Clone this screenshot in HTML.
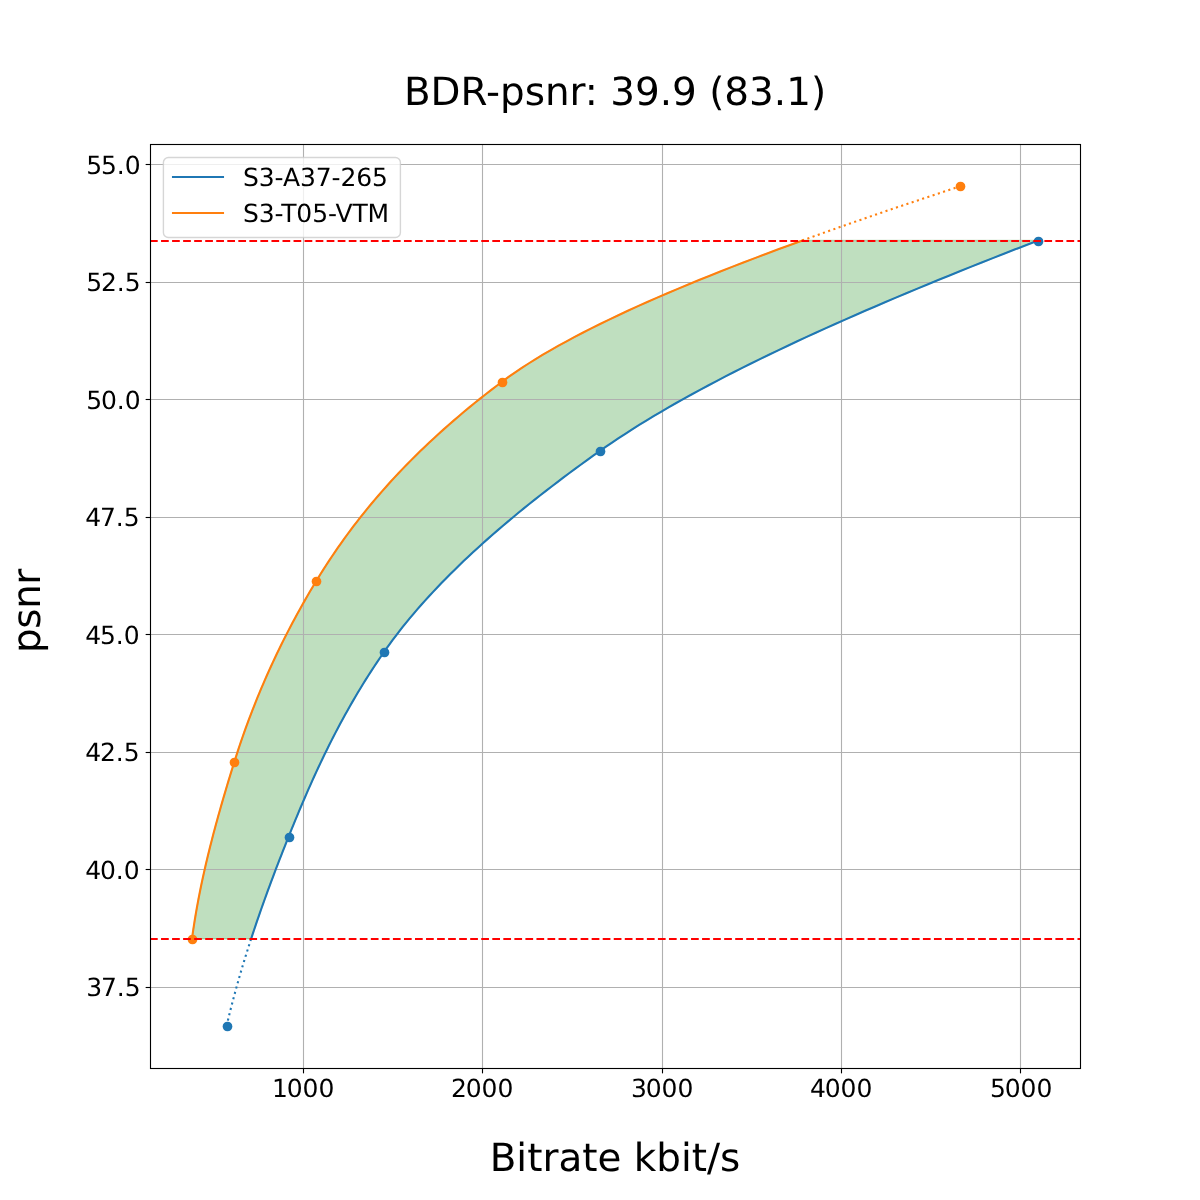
<!DOCTYPE html>
<html><head><meta charset="utf-8"><title>BDR-psnr</title>
<style>html,body{margin:0;padding:0;background:#fff}svg{display:block}text{text-rendering:geometricPrecision;font-family:"DejaVu Sans","Liberation Sans",sans-serif;fill:#000}</style></head><body>
<svg width="1200" height="1200" viewBox="0 0 1200 1200">
<rect width="1200" height="1200" fill="#fff"/>
<clipPath id="c"><rect x="150" y="144" width="930" height="924"/></clipPath>
<g clip-path="url(#c)">
<path d="M251.15 938.75 L252.59 934.36 L254.05 929.97 L255.53 925.58 L257.02 921.19 L258.53 916.79 L260.06 912.40 L261.60 908.01 L263.16 903.62 L264.73 899.23 L266.32 894.84 L267.92 890.45 L269.54 886.06 L271.17 881.66 L272.81 877.27 L274.47 872.88 L276.14 868.49 L277.82 864.10 L279.52 859.71 L281.23 855.32 L282.95 850.93 L284.68 846.53 L286.42 842.14 L288.18 837.75 L289.94 833.36 L291.72 828.97 L293.51 824.58 L295.31 820.19 L297.13 815.80 L298.96 811.41 L300.81 807.01 L302.68 802.62 L304.57 798.23 L306.47 793.84 L308.39 789.45 L310.34 785.06 L312.31 780.67 L314.30 776.28 L316.31 771.88 L318.35 767.49 L320.42 763.10 L322.51 758.71 L324.63 754.32 L326.78 749.93 L328.95 745.54 L331.16 741.15 L333.40 736.76 L335.67 732.36 L337.97 727.97 L340.31 723.58 L342.68 719.19 L345.09 714.80 L347.54 710.41 L350.02 706.02 L352.54 701.63 L355.10 697.23 L357.71 692.84 L360.35 688.45 L363.03 684.06 L365.76 679.67 L368.54 675.28 L371.36 670.89 L374.22 666.50 L377.13 662.10 L380.09 657.71 L383.10 653.32 L386.16 648.93 L389.31 644.54 L392.53 640.15 L395.84 635.76 L399.22 631.37 L402.68 626.98 L406.21 622.58 L409.83 618.19 L413.52 613.80 L417.29 609.41 L421.13 605.02 L425.05 600.63 L429.04 596.24 L433.11 591.85 L437.25 587.45 L441.46 583.06 L445.75 578.67 L450.11 574.28 L454.54 569.89 L459.04 565.50 L463.61 561.11 L468.25 556.72 L472.97 552.32 L477.75 547.93 L482.60 543.54 L487.51 539.15 L492.50 534.76 L497.55 530.37 L502.67 525.98 L507.85 521.59 L513.10 517.20 L518.42 512.80 L523.80 508.41 L529.24 504.02 L534.75 499.63 L540.32 495.24 L545.95 490.85 L551.65 486.46 L557.41 482.07 L563.22 477.67 L569.10 473.28 L575.04 468.89 L581.04 464.50 L587.09 460.11 L593.21 455.72 L599.38 451.33 L605.65 446.94 L612.06 442.54 L618.63 438.15 L625.34 433.76 L632.19 429.37 L639.18 424.98 L646.32 420.59 L653.59 416.20 L661.00 411.81 L668.54 407.42 L676.22 403.02 L684.03 398.63 L691.97 394.24 L700.04 389.85 L708.23 385.46 L716.55 381.07 L724.99 376.68 L733.55 372.29 L742.23 367.89 L751.03 363.50 L759.94 359.11 L768.97 354.72 L778.11 350.33 L787.36 345.94 L796.72 341.55 L806.18 337.16 L815.76 332.77 L825.43 328.37 L835.20 323.98 L845.08 319.59 L855.05 315.20 L865.12 310.81 L875.29 306.42 L885.54 302.03 L895.89 297.64 L906.33 293.24 L916.85 288.85 L927.46 284.46 L938.16 280.07 L948.94 275.68 L959.79 271.29 L970.73 266.90 L981.74 262.51 L992.83 258.11 L1003.99 253.72 L1015.23 249.33 L1026.53 244.94 L1037.90 240.55 L802.18 240.55 L790.14 244.94 L778.24 249.33 L766.48 253.72 L754.85 258.11 L743.37 262.51 L732.04 266.90 L720.86 271.29 L709.84 275.68 L698.98 280.07 L688.28 284.46 L677.75 288.85 L667.40 293.24 L657.22 297.64 L647.22 302.03 L637.41 306.42 L627.79 310.81 L618.36 315.20 L609.12 319.59 L600.09 323.98 L591.27 328.37 L582.65 332.77 L574.25 337.16 L566.07 341.55 L558.11 345.94 L550.38 350.33 L542.87 354.72 L535.60 359.11 L528.57 363.50 L521.78 367.89 L515.24 372.29 L508.95 376.68 L502.91 381.07 L497.08 385.46 L491.33 389.85 L485.68 394.24 L480.12 398.63 L474.65 403.02 L469.27 407.42 L463.97 411.81 L458.76 416.20 L453.64 420.59 L448.60 424.98 L443.64 429.37 L438.77 433.76 L433.97 438.15 L429.26 442.54 L424.63 446.94 L420.08 451.33 L415.60 455.72 L411.20 460.11 L406.87 464.50 L402.62 468.89 L398.45 473.28 L394.34 477.67 L390.31 482.07 L386.35 486.46 L382.45 490.85 L378.63 495.24 L374.87 499.63 L371.18 504.02 L367.56 508.41 L364.00 512.80 L360.50 517.20 L357.07 521.59 L353.69 525.98 L350.38 530.37 L347.13 534.76 L343.93 539.15 L340.80 543.54 L337.72 547.93 L334.70 552.32 L331.73 556.72 L328.81 561.11 L325.95 565.50 L323.14 569.89 L320.38 574.28 L317.67 578.67 L315.00 583.06 L312.37 587.45 L309.78 591.85 L307.23 596.24 L304.70 600.63 L302.22 605.02 L299.76 609.41 L297.35 613.80 L294.96 618.19 L292.61 622.58 L290.29 626.98 L288.01 631.37 L285.76 635.76 L283.54 640.15 L281.35 644.54 L279.20 648.93 L277.08 653.32 L274.99 657.71 L272.93 662.10 L270.91 666.50 L268.91 670.89 L266.95 675.28 L265.02 679.67 L263.12 684.06 L261.25 688.45 L259.41 692.84 L257.60 697.23 L255.82 701.63 L254.07 706.02 L252.36 710.41 L250.67 714.80 L249.00 719.19 L247.37 723.58 L245.77 727.97 L244.19 732.36 L242.65 736.76 L241.13 741.15 L239.64 745.54 L238.18 749.93 L236.74 754.32 L235.34 758.71 L233.96 763.10 L232.59 767.49 L231.23 771.88 L229.89 776.28 L228.55 780.67 L227.23 785.06 L225.91 789.45 L224.61 793.84 L223.32 798.23 L222.05 802.62 L220.79 807.01 L219.54 811.41 L218.31 815.80 L217.10 820.19 L215.90 824.58 L214.71 828.97 L213.55 833.36 L212.40 837.75 L211.27 842.14 L210.15 846.53 L209.06 850.93 L207.99 855.32 L206.93 859.71 L205.90 864.10 L204.89 868.49 L203.90 872.88 L202.93 877.27 L201.98 881.66 L201.06 886.06 L200.16 890.45 L199.29 894.84 L198.44 899.23 L197.62 903.62 L196.82 908.01 L196.05 912.40 L195.30 916.79 L194.59 921.19 L193.90 925.58 L193.23 929.97 L192.60 934.36 L192.00 938.75Z" fill="#008000" fill-opacity="0.25" stroke="#008000" stroke-opacity="0.25" stroke-width="1.39" stroke-linejoin="miter"/>
<g stroke="#b0b0b0" stroke-width="1.11" fill="none">
<path d="M303.5 144V1068"/>
<path d="M482.5 144V1068"/>
<path d="M662.5 144V1068"/>
<path d="M841.5 144V1068"/>
<path d="M1020.5 144V1068"/>
<path d="M150 164.5H1080"/>
<path d="M150 282.5H1080"/>
<path d="M150 399.5H1080"/>
<path d="M150 517.5H1080"/>
<path d="M150 634.5H1080"/>
<path d="M150 752.5H1080"/>
<path d="M150 869.5H1080"/>
<path d="M150 987.5H1080"/>
</g>
<path d="M251.15 938.75 L252.59 934.36 L254.05 929.97 L255.53 925.58 L257.02 921.19 L258.53 916.79 L260.06 912.40 L261.60 908.01 L263.16 903.62 L264.73 899.23 L266.32 894.84 L267.92 890.45 L269.54 886.06 L271.17 881.66 L272.81 877.27 L274.47 872.88 L276.14 868.49 L277.82 864.10 L279.52 859.71 L281.23 855.32 L282.95 850.93 L284.68 846.53 L286.42 842.14 L288.18 837.75 L289.94 833.36 L291.72 828.97 L293.51 824.58 L295.31 820.19 L297.13 815.80 L298.96 811.41 L300.81 807.01 L302.68 802.62 L304.57 798.23 L306.47 793.84 L308.39 789.45 L310.34 785.06 L312.31 780.67 L314.30 776.28 L316.31 771.88 L318.35 767.49 L320.42 763.10 L322.51 758.71 L324.63 754.32 L326.78 749.93 L328.95 745.54 L331.16 741.15 L333.40 736.76 L335.67 732.36 L337.97 727.97 L340.31 723.58 L342.68 719.19 L345.09 714.80 L347.54 710.41 L350.02 706.02 L352.54 701.63 L355.10 697.23 L357.71 692.84 L360.35 688.45 L363.03 684.06 L365.76 679.67 L368.54 675.28 L371.36 670.89 L374.22 666.50 L377.13 662.10 L380.09 657.71 L383.10 653.32 L386.16 648.93 L389.31 644.54 L392.53 640.15 L395.84 635.76 L399.22 631.37 L402.68 626.98 L406.21 622.58 L409.83 618.19 L413.52 613.80 L417.29 609.41 L421.13 605.02 L425.05 600.63 L429.04 596.24 L433.11 591.85 L437.25 587.45 L441.46 583.06 L445.75 578.67 L450.11 574.28 L454.54 569.89 L459.04 565.50 L463.61 561.11 L468.25 556.72 L472.97 552.32 L477.75 547.93 L482.60 543.54 L487.51 539.15 L492.50 534.76 L497.55 530.37 L502.67 525.98 L507.85 521.59 L513.10 517.20 L518.42 512.80 L523.80 508.41 L529.24 504.02 L534.75 499.63 L540.32 495.24 L545.95 490.85 L551.65 486.46 L557.41 482.07 L563.22 477.67 L569.10 473.28 L575.04 468.89 L581.04 464.50 L587.09 460.11 L593.21 455.72 L599.38 451.33 L605.65 446.94 L612.06 442.54 L618.63 438.15 L625.34 433.76 L632.19 429.37 L639.18 424.98 L646.32 420.59 L653.59 416.20 L661.00 411.81 L668.54 407.42 L676.22 403.02 L684.03 398.63 L691.97 394.24 L700.04 389.85 L708.23 385.46 L716.55 381.07 L724.99 376.68 L733.55 372.29 L742.23 367.89 L751.03 363.50 L759.94 359.11 L768.97 354.72 L778.11 350.33 L787.36 345.94 L796.72 341.55 L806.18 337.16 L815.76 332.77 L825.43 328.37 L835.20 323.98 L845.08 319.59 L855.05 315.20 L865.12 310.81 L875.29 306.42 L885.54 302.03 L895.89 297.64 L906.33 293.24 L916.85 288.85 L927.46 284.46 L938.16 280.07 L948.94 275.68 L959.79 271.29 L970.73 266.90 L981.74 262.51 L992.83 258.11 L1003.99 253.72 L1015.23 249.33 L1026.53 244.94 L1037.90 240.55" fill="none" stroke="#1f77b4" stroke-width="2.083" stroke-linecap="square" stroke-linejoin="round"/>
<path d="M192.00 938.75 L192.60 934.36 L193.23 929.97 L193.90 925.58 L194.59 921.19 L195.30 916.79 L196.05 912.40 L196.82 908.01 L197.62 903.62 L198.44 899.23 L199.29 894.84 L200.16 890.45 L201.06 886.06 L201.98 881.66 L202.93 877.27 L203.90 872.88 L204.89 868.49 L205.90 864.10 L206.93 859.71 L207.99 855.32 L209.06 850.93 L210.15 846.53 L211.27 842.14 L212.40 837.75 L213.55 833.36 L214.71 828.97 L215.90 824.58 L217.10 820.19 L218.31 815.80 L219.54 811.41 L220.79 807.01 L222.05 802.62 L223.32 798.23 L224.61 793.84 L225.91 789.45 L227.23 785.06 L228.55 780.67 L229.89 776.28 L231.23 771.88 L232.59 767.49 L233.96 763.10 L235.34 758.71 L236.74 754.32 L238.18 749.93 L239.64 745.54 L241.13 741.15 L242.65 736.76 L244.19 732.36 L245.77 727.97 L247.37 723.58 L249.00 719.19 L250.67 714.80 L252.36 710.41 L254.07 706.02 L255.82 701.63 L257.60 697.23 L259.41 692.84 L261.25 688.45 L263.12 684.06 L265.02 679.67 L266.95 675.28 L268.91 670.89 L270.91 666.50 L272.93 662.10 L274.99 657.71 L277.08 653.32 L279.20 648.93 L281.35 644.54 L283.54 640.15 L285.76 635.76 L288.01 631.37 L290.29 626.98 L292.61 622.58 L294.96 618.19 L297.35 613.80 L299.76 609.41 L302.22 605.02 L304.70 600.63 L307.23 596.24 L309.78 591.85 L312.37 587.45 L315.00 583.06 L317.67 578.67 L320.38 574.28 L323.14 569.89 L325.95 565.50 L328.81 561.11 L331.73 556.72 L334.70 552.32 L337.72 547.93 L340.80 543.54 L343.93 539.15 L347.13 534.76 L350.38 530.37 L353.69 525.98 L357.07 521.59 L360.50 517.20 L364.00 512.80 L367.56 508.41 L371.18 504.02 L374.87 499.63 L378.63 495.24 L382.45 490.85 L386.35 486.46 L390.31 482.07 L394.34 477.67 L398.45 473.28 L402.62 468.89 L406.87 464.50 L411.20 460.11 L415.60 455.72 L420.08 451.33 L424.63 446.94 L429.26 442.54 L433.97 438.15 L438.77 433.76 L443.64 429.37 L448.60 424.98 L453.64 420.59 L458.76 416.20 L463.97 411.81 L469.27 407.42 L474.65 403.02 L480.12 398.63 L485.68 394.24 L491.33 389.85 L497.08 385.46 L502.91 381.07 L508.95 376.68 L515.24 372.29 L521.78 367.89 L528.57 363.50 L535.60 359.11 L542.87 354.72 L550.38 350.33 L558.11 345.94 L566.07 341.55 L574.25 337.16 L582.65 332.77 L591.27 328.37 L600.09 323.98 L609.12 319.59 L618.36 315.20 L627.79 310.81 L637.41 306.42 L647.22 302.03 L657.22 297.64 L667.40 293.24 L677.75 288.85 L688.28 284.46 L698.98 280.07 L709.84 275.68 L720.86 271.29 L732.04 266.90 L743.37 262.51 L754.85 258.11 L766.48 253.72 L778.24 249.33 L790.14 244.94 L802.18 240.55" fill="none" stroke="#ff7f0e" stroke-width="2.083" stroke-linecap="square" stroke-linejoin="round"/>
<path d="M226.60 1026.00 L227.12 1023.76 L227.65 1021.53 L228.18 1019.29 L228.72 1017.05 L229.27 1014.81 L229.82 1012.58 L230.38 1010.34 L230.94 1008.10 L231.51 1005.87 L232.09 1003.63 L232.67 1001.39 L233.26 999.15 L233.85 996.92 L234.45 994.68 L235.06 992.44 L235.67 990.21 L236.28 987.97 L236.90 985.73 L237.53 983.49 L238.16 981.26 L238.80 979.02 L239.44 976.78 L240.09 974.54 L240.74 972.31 L241.40 970.07 L242.07 967.83 L242.74 965.60 L243.41 963.36 L244.09 961.12 L244.77 958.88 L245.46 956.65 L246.16 954.41 L246.86 952.17 L247.56 949.94 L248.27 947.70 L248.98 945.46 L249.70 943.22 L250.42 940.99 L251.15 938.75" fill="none" stroke="#1f77b4" stroke-width="2.083" stroke-dasharray="2.0833 3.4375"/>
<path d="M802.18 240.55 L806.02 239.16 L809.88 237.76 L813.75 236.37 L817.63 234.98 L821.53 233.58 L825.44 232.19 L829.36 230.79 L833.29 229.40 L837.23 228.01 L841.19 226.61 L845.16 225.22 L849.13 223.83 L853.12 222.43 L857.13 221.04 L861.14 219.65 L865.16 218.25 L869.19 216.86 L873.24 215.47 L877.29 214.07 L881.36 212.68 L885.43 211.28 L889.52 209.89 L893.62 208.50 L897.72 207.10 L901.84 205.71 L905.96 204.32 L910.10 202.92 L914.24 201.53 L918.39 200.14 L922.56 198.74 L926.73 197.35 L930.91 195.96 L935.09 194.56 L939.29 193.17 L943.50 191.77 L947.71 190.38 L951.93 188.99 L956.16 187.59 L960.40 186.20" fill="none" stroke="#ff7f0e" stroke-width="2.083" stroke-dasharray="2.0833 3.4375"/>
<circle cx="227.5" cy="1026.5" r="4.86" fill="#1f77b4"/>
<circle cx="289.5" cy="837.5" r="4.86" fill="#1f77b4"/>
<circle cx="384.5" cy="652.5" r="4.86" fill="#1f77b4"/>
<circle cx="600.5" cy="451.5" r="4.86" fill="#1f77b4"/>
<circle cx="1038.5" cy="241.5" r="4.86" fill="#1f77b4"/>
<circle cx="192.5" cy="939.5" r="4.86" fill="#ff7f0e"/>
<circle cx="234.5" cy="762.5" r="4.86" fill="#ff7f0e"/>
<circle cx="316.5" cy="581.5" r="4.86" fill="#ff7f0e"/>
<circle cx="502.5" cy="382.5" r="4.86" fill="#ff7f0e"/>
<circle cx="960.5" cy="186.5" r="4.86" fill="#ff7f0e"/>
<path d="M150 241H1080" stroke="#ff0000" stroke-width="2.083" stroke-dasharray="7.7083 3.3333" fill="none"/>
<path d="M150 939H1080" stroke="#ff0000" stroke-width="2.083" stroke-dasharray="7.7083 3.3333" fill="none"/>
</g>
<g stroke="#000" stroke-width="1.11">
<path d="M303.5 1068.5v4.86"/>
<path d="M482.5 1068.5v4.86"/>
<path d="M662.5 1068.5v4.86"/>
<path d="M841.5 1068.5v4.86"/>
<path d="M1020.5 1068.5v4.86"/>
<path d="M150.5 164.5h-4.86"/>
<path d="M150.5 282.5h-4.86"/>
<path d="M150.5 399.5h-4.86"/>
<path d="M150.5 517.5h-4.86"/>
<path d="M150.5 634.5h-4.86"/>
<path d="M150.5 752.5h-4.86"/>
<path d="M150.5 869.5h-4.86"/>
<path d="M150.5 987.5h-4.86"/>
</g>
<rect x="150.5" y="144.5" width="930" height="924" fill="none" stroke="#000" stroke-width="1.11"/>
<g font-size="25.0px">
<text x="302.0" y="1097" text-anchor="middle" dx="1.2 -1.2">1000</text>
<text x="481.0" y="1097" text-anchor="middle" dx="1.2 -1.2">2000</text>
<text x="661.0" y="1097" text-anchor="middle" dx="1.2 -1.2">3000</text>
<text x="840.0" y="1097" text-anchor="middle" dx="1.2 -1.2">4000</text>
<text x="1020.0" y="1097" text-anchor="middle" dx="1.2 -1.2">5000</text>
<text x="139.5" y="173.6" text-anchor="end" dx="1.2 -1.2">55.0</text>
<text x="139.5" y="290.6" text-anchor="end" dx="1.2 -1.2">52.5</text>
<text x="139.5" y="408.6" text-anchor="end" dx="1.2 -1.2">50.0</text>
<text x="138.5" y="525.6" text-anchor="end" dx="1.2 -1.2">47.5</text>
<text x="138.5" y="643.6" text-anchor="end" dx="1.2 -1.2">45.0</text>
<text x="138.5" y="760.6" text-anchor="end" dx="1.2 -1.2">42.5</text>
<text x="138.5" y="878.6" text-anchor="end" dx="1.2 -1.2">40.0</text>
<text x="139.5" y="995.6" text-anchor="end" dx="1.2 -1.2">37.5</text>
</g>
<text x="615" y="104.5" text-anchor="middle" font-size="38.89px">BDR-psnr: 39.9 (83.1)</text>
<text x="615" y="1170.7" text-anchor="middle" font-size="38.89px">Bitrate kbit/s</text>
<text transform="translate(40.2 653) rotate(-90)" font-size="38.89px" letter-spacing="-0.4">psnr</text>
<rect x="163.4" y="157.5" width="237" height="80" rx="5" ry="5" fill="#fff" fill-opacity="0.8" stroke="#cccccc" stroke-opacity="0.8" stroke-width="1.39"/>
<path d="M173 177h50" stroke="#1f77b4" stroke-width="2.083" stroke-linecap="square" fill="none"/>
<path d="M173 213h50" stroke="#ff7f0e" stroke-width="2.083" stroke-linecap="square" fill="none"/>
<text x="243" y="186" font-size="25.0px" letter-spacing="-0.1">S3-A37-265</text>
<text x="243" y="222" font-size="25.0px" letter-spacing="-0.1">S3-T05-VTM</text>
</svg></body></html>
